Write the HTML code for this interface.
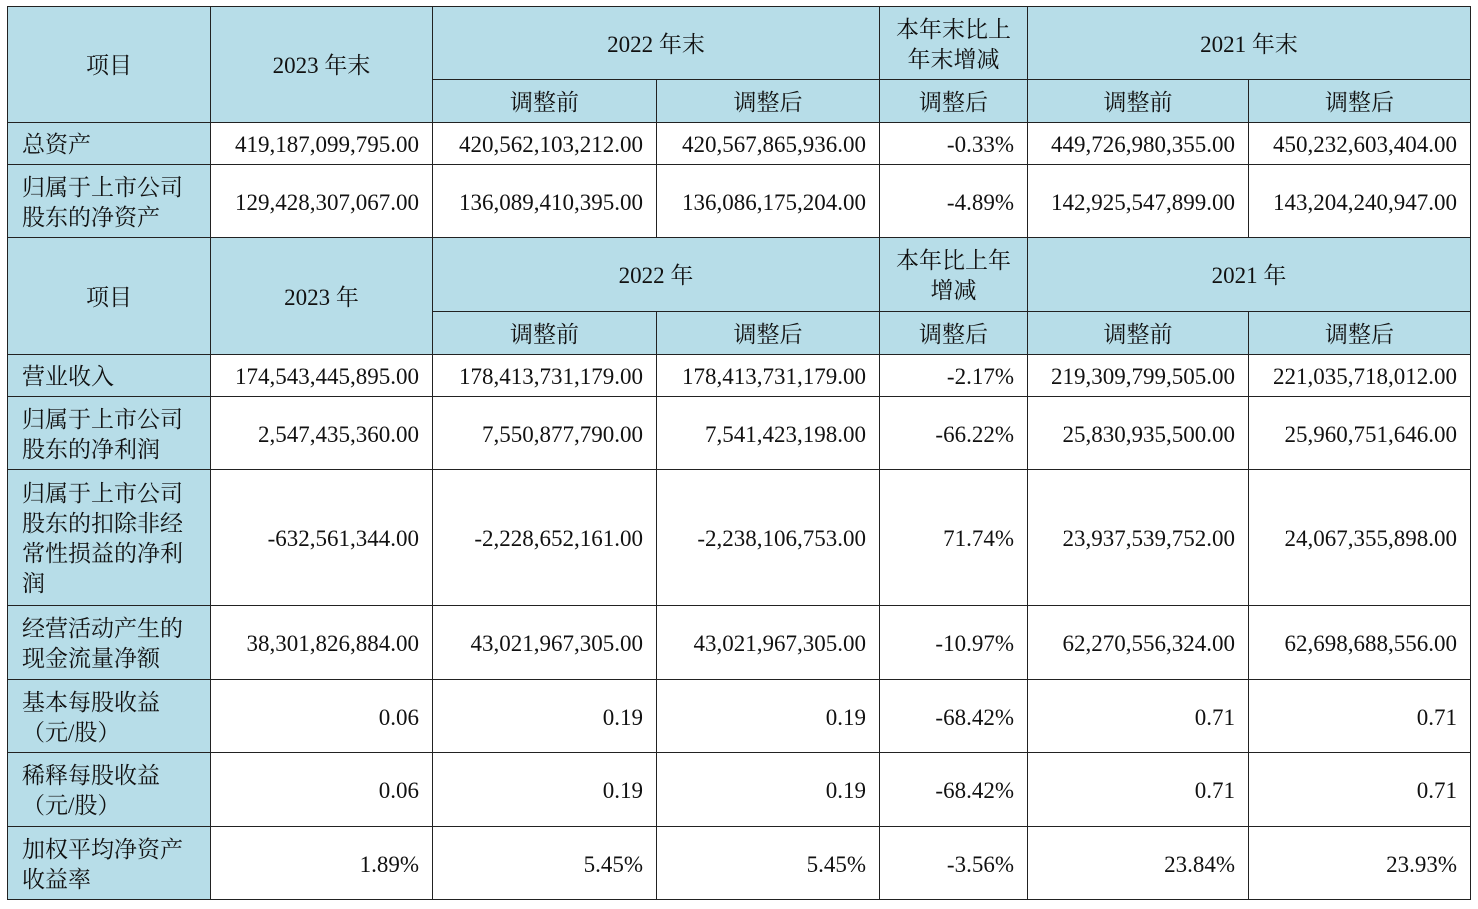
<!DOCTYPE html>
<html><head><meta charset="utf-8"><style>
html,body{margin:0;padding:0;background:#fff;width:1478px;height:909px;overflow:hidden}
table{position:absolute;left:7px;top:6px;border-collapse:collapse;table-layout:fixed;width:1463px;
font-family:"Liberation Serif","Noto Serif CJK SC",serif;font-size:23px;color:#111}
td{border:1.5px solid #222;padding:3px 12px 0 14px;line-height:30px;overflow:hidden;white-space:nowrap}
.h{background:#b7dde8;text-align:center;padding:3px 2px 0 2px}
.l{background:#b7dde8;text-align:left;padding-left:14px;padding-right:0}
.n{text-align:right;padding-right:13px;padding-left:0}
</style></head><body>
<table>
<colgroup><col style="width:203px"><col style="width:222px"><col style="width:224px"><col style="width:223px"><col style="width:148px"><col style="width:221px"><col style="width:222px"></colgroup>
<tr style="height:73px"><td class="h" rowspan="2">项目</td><td class="h" rowspan="2">2023 年末</td><td class="h" colspan="2">2022 年末</td><td class="h">本年末比上<br>年末增减</td><td class="h" colspan="2">2021 年末</td></tr>
<tr style="height:43px"><td class="h">调整前</td><td class="h">调整后</td><td class="h">调整后</td><td class="h">调整前</td><td class="h">调整后</td></tr>
<tr style="height:42px"><td class="l">总资产</td><td class="n">419,187,099,795.00</td><td class="n">420,562,103,212.00</td><td class="n">420,567,865,936.00</td><td class="n">-0.33%</td><td class="n">449,726,980,355.00</td><td class="n">450,232,603,404.00</td></tr>
<tr style="height:73px"><td class="l">归属于上市公司<br>股东的净资产</td><td class="n">129,428,307,067.00</td><td class="n">136,089,410,395.00</td><td class="n">136,086,175,204.00</td><td class="n">-4.89%</td><td class="n">142,925,547,899.00</td><td class="n">143,204,240,947.00</td></tr>
<tr style="height:74px"><td class="h" rowspan="2">项目</td><td class="h" rowspan="2">2023 年</td><td class="h" colspan="2">2022 年</td><td class="h">本年比上年<br>增减</td><td class="h" colspan="2">2021 年</td></tr>
<tr style="height:43px"><td class="h">调整前</td><td class="h">调整后</td><td class="h">调整后</td><td class="h">调整前</td><td class="h">调整后</td></tr>
<tr style="height:42px"><td class="l">营业收入</td><td class="n">174,543,445,895.00</td><td class="n">178,413,731,179.00</td><td class="n">178,413,731,179.00</td><td class="n">-2.17%</td><td class="n">219,309,799,505.00</td><td class="n">221,035,718,012.00</td></tr>
<tr style="height:73px"><td class="l">归属于上市公司<br>股东的净利润</td><td class="n">2,547,435,360.00</td><td class="n">7,550,877,790.00</td><td class="n">7,541,423,198.00</td><td class="n">-66.22%</td><td class="n">25,830,935,500.00</td><td class="n">25,960,751,646.00</td></tr>
<tr style="height:136px"><td class="l">归属于上市公司<br>股东的扣除非经<br>常性损益的净利<br>润</td><td class="n">-632,561,344.00</td><td class="n">-2,228,652,161.00</td><td class="n">-2,238,106,753.00</td><td class="n">71.74%</td><td class="n">23,937,539,752.00</td><td class="n">24,067,355,898.00</td></tr>
<tr style="height:74px"><td class="l">经营活动产生的<br>现金流量净额</td><td class="n">38,301,826,884.00</td><td class="n">43,021,967,305.00</td><td class="n">43,021,967,305.00</td><td class="n">-10.97%</td><td class="n">62,270,556,324.00</td><td class="n">62,698,688,556.00</td></tr>
<tr style="height:73px"><td class="l">基本每股收益<br>（元/股）</td><td class="n">0.06</td><td class="n">0.19</td><td class="n">0.19</td><td class="n">-68.42%</td><td class="n">0.71</td><td class="n">0.71</td></tr>
<tr style="height:74px"><td class="l">稀释每股收益<br>（元/股）</td><td class="n">0.06</td><td class="n">0.19</td><td class="n">0.19</td><td class="n">-68.42%</td><td class="n">0.71</td><td class="n">0.71</td></tr>
<tr style="height:73px"><td class="l">加权平均净资产<br>收益率</td><td class="n">1.89%</td><td class="n">5.45%</td><td class="n">5.45%</td><td class="n">-3.56%</td><td class="n">23.84%</td><td class="n">23.93%</td></tr>
</table>
</body></html>
